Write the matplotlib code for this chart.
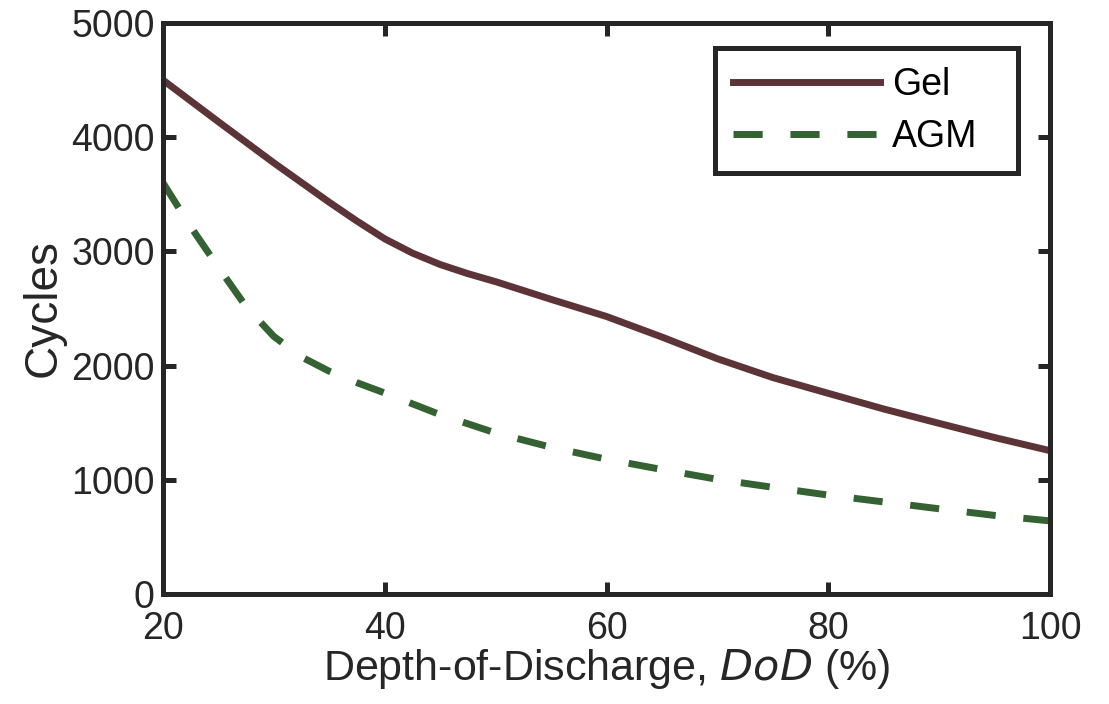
import matplotlib
matplotlib.use("Agg")
import matplotlib.pyplot as plt

plt.rcParams['font.family'] = ['Liberation Sans', 'DejaVu Sans']

# depth of discharge (%) and cycle counts
gel_dod = [20, 25, 30, 35, 37.5, 40, 42.5, 45, 47.5, 50, 55, 60, 65, 70, 75, 80, 85, 90, 95, 100]
gel = [4500, 4135, 3775, 3430, 3265, 3110, 2985, 2885, 2805, 2735, 2580, 2430, 2250, 2060, 1895, 1757, 1620, 1494, 1370, 1255]

agm_dod = [20, 22.5, 25, 27.5, 30, 32.5, 35, 37.5, 40, 45, 50, 55, 60, 65, 70, 75, 80, 85, 90, 95, 100]
agm = [3600, 3215, 2860, 2515, 2255, 2075, 1950, 1850, 1760, 1570, 1410, 1285, 1180, 1090, 1004, 934, 866, 806, 746, 688, 640]

xticks = [20, 40, 60, 80, 100]
yticks = [0, 1000, 2000, 3000, 4000, 5000]

dark = '#262626'

fig = plt.figure(figsize=(11.09, 7.04), dpi=100)
ax = fig.add_axes([0.147, 0.1563, 0.7998, 0.811])

ax.plot(gel_dod, gel, color='#5C3336', lw=5, label='Gel')
ax.plot(agm_dod, agm, color='#356232', lw=5, ls=(0, (4.2, 4.0)), label='AGM')

ax.set_xlim(20, 100)
ax.set_ylim(0, 5000)
ax.set_xticks(xticks)
ax.set_yticks(yticks)

for s in ax.spines.values():
    s.set_linewidth(3.6)
    s.set_color(dark)
ax.tick_params(direction='in', length=9, width=3.6, color=dark,
               labelsize=27, labelcolor=dark, top=True, right=True, pad=6)
ax.tick_params(axis='x', pad=12)

ax.set_xlabel('Depth-of-Discharge, $\\it{DoD}$ (%)', fontsize=31, color=dark, labelpad=0)
ax.set_ylabel('Cycles', fontsize=33, color=dark, labelpad=4)

leg = ax.legend(loc='upper left', bbox_to_anchor=(0.622, 0.5, 0.342, 0.456),
                mode='expand', borderaxespad=0,
                fontsize=27, handlelength=3.9, handletextpad=0.32, fancybox=False,
                framealpha=1, edgecolor=dark, borderpad=0.5, labelspacing=0.42)
leg.get_frame().set_linewidth(3.6)
for t in leg.get_texts():
    t.set_color('black')

fig.savefig('out.png', dpi=100)
